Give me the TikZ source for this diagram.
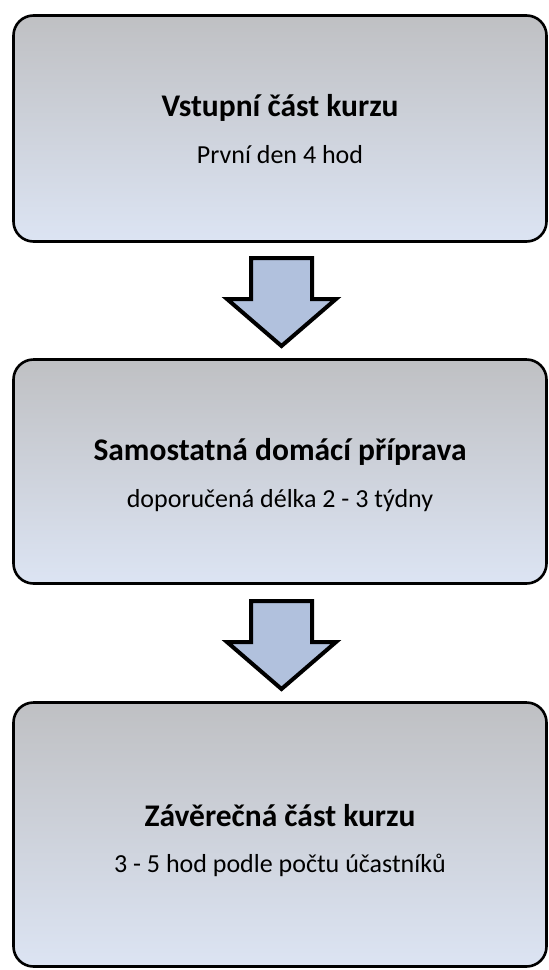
\documentclass[tikz,border=0pt]{standalone}
\usepackage{fontspec}
\setmainfont{Carlito}
\usetikzlibrary{calc}
\definecolor{boxtop}{HTML}{BFC0C3}
\definecolor{boxmid}{HTML}{C4D2EA}
\definecolor{boxbot}{HTML}{DCE4F3}
\definecolor{arrowfill}{HTML}{B1C1DD}
\tikzset{
  stage/.style={draw=black, line width=2.6pt, rounded corners=20pt,
    minimum width=533pt, inner sep=0pt,
    top color=boxtop, middle color=boxmid, bottom color=boxbot},
  stagetitle/.style={anchor=base, inner sep=0pt,
    font=\fontsize{31.5}{37}\selectfont\bfseries},
  stagesub/.style={anchor=base, inner sep=0pt,
    font=\fontsize{26}{31}\selectfont},
  flowarrow/.style={draw=black, line width=4pt, fill=arrowfill, line join=miter},
  pics/downarrow/.style={code={
    \path[flowarrow] (-30.5,-41) -- (30.5,-41) -- (30.5,0) -- (54.5,0)
      -- (0,47) -- (-54.5,0) -- (-30.5,0) -- cycle;}}
}
\begin{document}
\begin{tikzpicture}[x=1pt,y=-1pt]
  \useasboundingbox (0,0) rectangle (549,970);

  % the three stages of the course
  \node[stage, minimum height=226pt] (b1) at (280,128.5) {};
  \node[stage, minimum height=224pt] (b2) at (280,471.5) {};
  \node[stage, minimum height=264pt] (b3) at (280,834.5) {};

  \node[stagetitle] (t1) at ($(b1.center)+(0,-12)$) {Vstupní část kurzu};
  \node[stagesub]   (s1) at ($(b1.center)+(0,35)$)  {První den 4 hod};

  \node[stagetitle] (t2) at ($(b2.center)+(0,-11)$) {Samostatná domácí příprava};
  \node[stagesub]   (s2) at ($(b2.center)+(0,36)$)  {doporučená délka 2 - 3 týdny};

  \node[stagetitle] (t3) at ($(b3.center)+(0,-8)$) {Závěrečná část kurzu};
  \node[stagesub]   (s3) at ($(b3.center)+(0,38)$)  {3 - 5 hod podle počtu účastníků};

  % block arrows between the stages
  \pic at ($(b1.south)!0.5!(b2.north)+(1.5,-1.5)$) {downarrow};
  \pic at ($(b2.south)!0.5!(b3.north)+(1.5,-1)$) {downarrow};
\end{tikzpicture}
\end{document}
